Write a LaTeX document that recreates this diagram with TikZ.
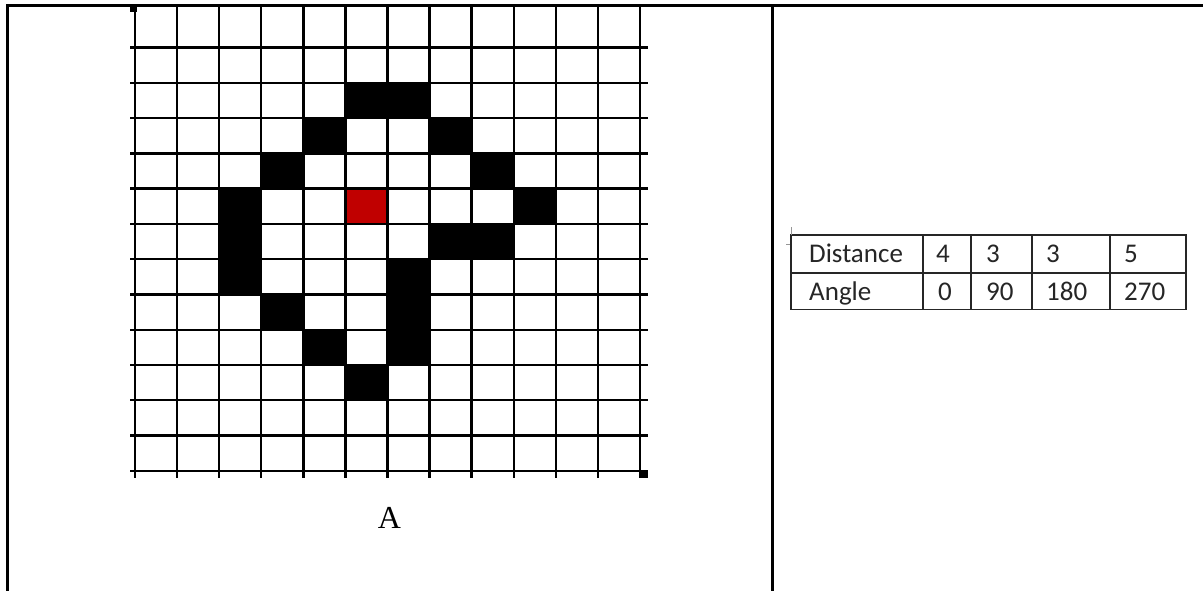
\documentclass[tikz,border=0pt]{standalone}
\usepackage{fontspec}
\usepackage{tikz}
\usetikzlibrary{positioning}
\newfontfamily\tabfamily{Carlito}
\newfontfamily\capfamily{Liberation Serif}
\definecolor{cellred}{RGB}{192,0,0}
\definecolor{fleckgray}{RGB}{150,150,150}
\tikzset{
  framerule/.style={line width=3pt,draw=black},
  gridline/.style={line width=2.4pt,draw=black},
  tabrule/.style={line width=1.5pt,draw=black!85},
  tabtext/.style={font=\tabfamily\fontsize{27}{32}\selectfont,
    anchor=base west,inner sep=0pt,text=black!85},
  caption/.style={font=\capfamily\fontsize{32}{36}\selectfont,inner sep=0pt},
  handle/.style={fill=black},
  fleck/.style={line width=0.8pt,draw=fleckgray}
}
\def\cw{42.083}
\def\rh{35.25}

\begin{document}
\begin{tikzpicture}[x=1pt,y=-1pt]
  \fill[white] (0,0) rectangle (1203,591);
  \useasboundingbox (0,0) rectangle (1203,591);
  % outer frame
  \draw[framerule] (7,591) -- (7,6) -- (1203,6);
  \draw[framerule] (772,6) -- (772,591);
  % filled cells
  \foreach \c/\r in {5/2,6/2,4/3,7/3,3/4,8/4,2/5,9/5,2/6,7/6,8/6,
                     2/7,6/7,3/8,6/8,4/9,6/9,5/10}
    \fill[black] ({135+\c*\cw},{47.7+(\r-1)*\rh}) rectangle ++(\cw,\rh);
  \fill[cellred] ({135+5*\cw},{47.7+4*\rh}) rectangle ++(\cw,\rh);
  % grid
  \foreach \c in {0,...,12}
    \draw[gridline] ({135+\c*\cw},6) -- ({135+\c*\cw},478);
  \foreach \r in {0,...,12}
    \draw[gridline] (130,{47.7+\r*\rh}) -- (648,{47.7+\r*\rh});
  \fill[handle] (130,5) rectangle (137,12);
  \fill[handle] (640,470.5) rectangle (648,477.5);
  \node[caption] (gridlabel) at (389.5,517.5) {A};
  % table
  \draw[tabrule] (791,235) rectangle (1186,309.5);
  \draw[tabrule] (791,273) -- (1186,273);
  \foreach \x in {923,971,1032,1110}
    \draw[tabrule] (\x,235) -- (\x,309.5);
  \draw[fleck] (791,227) -- (791,235);
  \draw[fleck] (786,244) -- (790,244);
  \node[tabtext] (dist) at (809,262) {Distance};
  \node[tabtext] (ang) at (809,300) {Angle};
  \node[tabtext] (dfour) at (936,262) {4};
  \node[tabtext] (dthree) at (986,262) {3};
  \node[tabtext] (dthreeb) at (1046,262) {3};
  \node[tabtext] (dfive) at (1124,262) {5};
  \node[tabtext] (azero) at (938,300) {0};
  \node[tabtext] (aninety) at (986,300) {90};
  \node[tabtext] (aoneeighty) at (1046,300) {180};
  \node[tabtext] (atwoseventy) at (1124,300) {270};
\end{tikzpicture}
\end{document}
